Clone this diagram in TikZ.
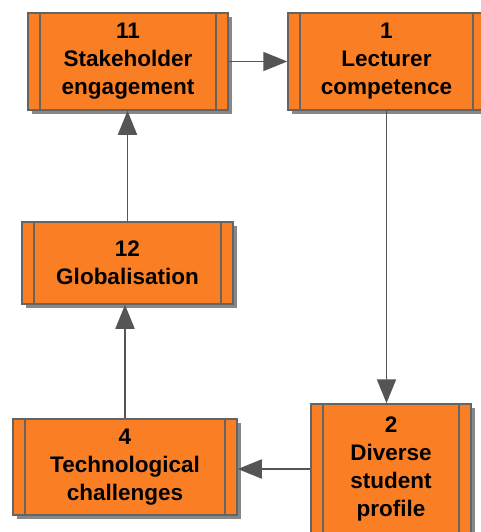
\documentclass[tikz,border=0pt]{standalone}
\usepackage{fontspec}
\setmainfont{Liberation Sans}
\usetikzlibrary{arrows.meta,shadows}
\definecolor{boxfill}{RGB}{250,127,36}
\definecolor{boxline}{RGB}{100,100,100}
\definecolor{shadowgray}{RGB}{135,135,135}
\definecolor{edgegray}{RGB}{85,85,85}
\def\blist{{(128,-61.5)/stake/200/97/{11\\Stakeholder\\engagement}}, {(386.5,-61.5)/lect/197/97/{1\\Lecturer\\competence}}, {(127.5,-263)/glob/211/82/{12\\Globalisation}}, {(125,-467)/tech/224/96/{4\\Technological\\challenges}}, {(391,-469)/div/160/130/{2\\Diverse\\student\\profile}}}
\tikzstyle{block}=[rectangle, draw=boxline, line width=1.5pt, fill=boxfill, inner sep=0pt, align=center,
  font=\fontsize{22.5}{28}\selectfont\bfseries,
  drop shadow={shadow xshift=4pt, shadow yshift=-4pt, fill=shadowgray, opacity=1},
  path picture={\draw[boxline, line width=1.5pt]
    ([xshift=12pt]path picture bounding box.north west) -- ([xshift=12pt]path picture bounding box.south west)
    ([xshift=-12pt]path picture bounding box.north east) -- ([xshift=-12pt]path picture bounding box.south east);}]
\tikzstyle{edge}=[draw=edgegray, line width=1.8pt, -{Triangle[length=24pt,width=19pt]}]

\begin{document}
\begin{tikzpicture}[x=1pt,y=1pt]
  \useasboundingbox (0,0) rectangle (480,-532);
  \foreach \pos/\name/\w/\h/\txt in \blist {
    \node[block, minimum width=\w pt, minimum height=\h pt] (\name) at \pos {\txt};
  }

  % horizontal links
  \foreach \source/\a/\sink/\b in {stake/east/lect/west, div/west/tech/east} {
    \path[edge] (\source.\a) -- (\source.\a -| \sink.\b);
  }
  % vertical links
  \foreach \source/\a/\sink/\b in {lect/south/div/north, tech/north/glob/south, glob/north/stake/south} {
    \path[edge] (\source.\a) -- (\source.\a |- \sink.\b);
  }
\end{tikzpicture}
\end{document}
